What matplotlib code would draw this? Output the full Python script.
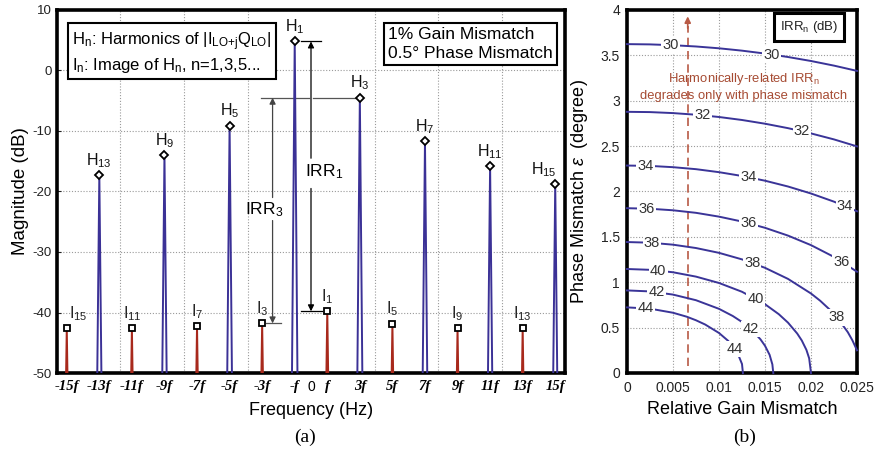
import matplotlib
matplotlib.use("Agg")
import matplotlib.pyplot as plt
import numpy as np

plt.rcParams["font.family"] = ["Liberation Sans", "DejaVu Sans"]
plt.rcParams["mathtext.fontset"] = "custom"
plt.rcParams["mathtext.rm"] = "Liberation Sans"
plt.rcParams["mathtext.it"] = "Liberation Sans:italic"
plt.rcParams["mathtext.bf"] = "Liberation Sans:bold"
plt.rcParams["axes.unicode_minus"] = False

# ---------------- (a) output spectrum ----------------
# harmonic order, frequency (multiples of f) and level (dB)
harm_order = [1, 3, 5, 7, 9, 11, 13, 15]
harm_freq = [-1, 3, -5, 7, -9, 11, -13, 15]
harm_db = [4.8, -4.5, -9.1, -11.7, -14.0, -15.8, -17.3, -18.8]

img_order = [1, 3, 5, 7, 9, 11, 13, 15]
img_freq = [1, -3, 5, -7, 9, -11, 13, -15]
img_db = [-39.8, -41.8, -41.9, -42.3, -42.6, -42.6, -42.6, -42.6]

freq_ticks = [-15, -13, -11, -9, -7, -5, -3, -1, 0, 1, 3, 5, 7, 9, 11, 13, 15]
freq_tick_labels = ["-15f", "-13f", "-11f", "-9f", "-7f", "-5f", "-3f", "-f", "0",
                    "f", "3f", "5f", "7f", "9f", "11f", "13f", "15f"]
mag_ticks = [-50, -40, -30, -20, -10, 0, 10]

# ---------------- (b) IRR contours ----------------
irr_levels = [30, 32, 34, 36, 38, 40, 42, 44]
gain_30 = [0, 0.0025, 0.005, 0.0075, 0.01, 0.0125, 0.015, 0.0175, 0.02, 0.0225, 0.025]
phase_30 = [3.624, 3.621, 3.612, 3.598, 3.578, 3.552, 3.520, 3.482, 3.438, 3.387, 3.329]
gain_32 = gain_30
phase_32 = [2.878, 2.875, 2.864, 2.846, 2.821, 2.788, 2.747, 2.698, 2.640, 2.574, 2.497]
gain_34 = gain_30
phase_34 = [2.286, 2.282, 2.268, 2.246, 2.213, 2.171, 2.119, 2.055, 1.978, 1.888, 1.782]
gain_36 = gain_30
phase_36 = [1.816, 1.810, 1.793, 1.765, 1.723, 1.669, 1.600, 1.514, 1.409, 1.279, 1.116]
gain_38 = [0, 0.0025, 0.005, 0.0075, 0.01, 0.0125, 0.015, 0.0175, 0.02, 0.021, 0.022,
           0.023, 0.024, 0.0245, 0.025]
phase_38 = [1.443, 1.436, 1.414, 1.377, 1.324, 1.252, 1.159, 1.037, 0.876, 0.796, 0.702,
            0.590, 0.450, 0.360, 0.250]
gain_40 = [0, 0.0025, 0.005, 0.0075, 0.01, 0.0125, 0.015, 0.0165, 0.0175, 0.0185, 0.019,
           0.0195, 0.0198, 0.02]
phase_40 = [1.146, 1.137, 1.110, 1.062, 0.992, 0.895, 0.758, 0.648, 0.555, 0.435, 0.358,
            0.255, 0.162, 0.0]
gain_42 = [0, 0.0025, 0.005, 0.0075, 0.01, 0.0115, 0.0125, 0.0135, 0.0145, 0.015, 0.0155,
           0.0158, 0.0159]
phase_42 = [0.910, 0.899, 0.864, 0.802, 0.707, 0.628, 0.562, 0.480, 0.372, 0.300, 0.200,
            0.095, 0.0]
gain_44 = [0, 0.0025, 0.005, 0.0065, 0.0075, 0.0085, 0.01, 0.011, 0.012, 0.0125, 0.0126]
phase_44 = [0.723, 0.709, 0.664, 0.620, 0.581, 0.534, 0.441, 0.354, 0.224, 0.099, 0.0]

contours = {30: (gain_30, phase_30), 32: (gain_32, phase_32), 34: (gain_34, phase_34),
            36: (gain_36, phase_36), 38: (gain_38, phase_38), 40: (gain_40, phase_40),
            42: (gain_42, phase_42), 44: (gain_44, phase_44)}

gain_ticks = [0, 0.005, 0.01, 0.015, 0.02, 0.025]
gain_tick_labels = ["0", "0.005", "0.01", "0.015", "0.02", "0.025"]
phase_ticks = [0, 0.5, 1, 1.5, 2, 2.5, 3, 3.5, 4]
phase_tick_labels = ["0", "0.5", "1", "1.5", "2", "2.5", "3", "3.5", "4"]
marker_gain = 0.0066

# ---------------- styling ----------------
BLUE = "#3b3196"
RED = "#a8291c"
CONTOUR = "#3a3498"
GRID = dict(color="#9a9a9a", lw=0.8, linestyle=(0, (1, 1.6)))
SPIKE_HALF = 0.32     # half base width of a spectral line (units of f)
SPIKE_FLOOR = -100.0  # level the line skirts fall to

W, H = 877, 455
fig = plt.figure(figsize=(W / 100, H / 100), dpi=100)
ax1 = fig.add_axes([57 / W, 1 - 373 / H, (565 - 57) / W, (373 - 10) / H])
ax2 = fig.add_axes([627 / W, 1 - 373 / H, (857 - 627) / W, (373 - 10) / H])

# ---- panel (a)
ax1.set_xlim(-15.6, 15.6)
ax1.set_ylim(-50, 10)
ax1.set_yticks(mag_ticks)
ax1.set_xticks(freq_ticks)
ax1.set_xticklabels(freq_tick_labels)
for lab, txt in zip(ax1.get_xticklabels(), freq_tick_labels):
    if txt == "0":
        lab.set_fontfamily("Liberation Sans")
        lab.set_fontsize(10)
    else:
        lab.set_fontfamily("Liberation Serif")
        lab.set_fontstyle("italic")
        lab.set_fontweight("bold")
        lab.set_fontsize(10.5)
ax1.set_xticks([k * 3.9 for k in range(-3, 4)], minor=True)
ax1.tick_params(axis="x", which="both", length=0, pad=5)
ax1.tick_params(axis="y", length=3, direction="in", labelsize=9.5, pad=4, colors="#222222")
ax1.grid(True, which="minor", axis="x", **GRID)
ax1.grid(True, which="major", axis="y", **GRID)
ax1.set_axisbelow(True)
for sp in ax1.spines.values():
    sp.set_linewidth(2.6)

for x0, pk in zip(harm_freq, harm_db):
    ax1.plot([x0 - SPIKE_HALF, x0, x0 + SPIKE_HALF], [SPIKE_FLOOR, pk, SPIKE_FLOOR],
             color=BLUE, lw=1.4, zorder=3)
for x0, pk in zip(img_freq, img_db):
    ax1.plot([x0 - SPIKE_HALF, x0, x0 + SPIKE_HALF], [SPIKE_FLOOR, pk, SPIKE_FLOOR],
             color=RED, lw=1.4, zorder=3)
ax1.plot(harm_freq, harm_db, "D", ms=4, mfc="white", mec="black", mew=1.3, zorder=5,
         linestyle="none")
ax1.plot(img_freq, img_db, "s", ms=4.2, mfc="white", mec="black", mew=1.3, zorder=5,
         linestyle="none")

for n, x0, pk in zip(harm_order, harm_freq, harm_db):
    dx = -8 if n == 15 else 0
    ax1.annotate("H$_{\\mathrm{%d}}$" % n, (x0, pk), xytext=(dx, 4), textcoords="offset points",
                 ha="center", va="bottom", fontsize=11.5, color="#111111")
for n, x0, pk in zip(img_order, img_freq, img_db):
    dx = 8 if n == 15 else 0
    ax1.annotate("I$_{\\mathrm{%d}}$" % n, (x0, pk), xytext=(dx, 4), textcoords="offset points",
                 ha="center", va="bottom", fontsize=11.5, color="#222222")

# image-rejection-ratio brackets
arrow_kw = dict(arrowstyle="-|>", mutation_scale=9, lw=0.9, shrinkA=0, shrinkB=0)
h1, i1 = harm_db[0], img_db[0]
h3, i3 = harm_db[1], img_db[1]
ax1.plot([-0.6, 0.6], [h1, h1], color="black", lw=0.9)
ax1.plot([-0.6, 0.7], [i1, i1], color="black", lw=0.9)
ax1.annotate("", xy=(0, h1), xytext=(0, -14.5), arrowprops=dict(color="black", **arrow_kw))
ax1.annotate("", xy=(0, i1), xytext=(0, -19.5), arrowprops=dict(color="black", **arrow_kw))
ax1.text(0.8, -16.8, "IRR$_{\\mathrm{1}}$", ha="center", va="center", fontsize=12.5)

x_irr3 = -2.36
ax1.plot([-3.05, -0.15], [h3, h3], color="#555555", lw=0.9)
ax1.plot([0.15, 2.7], [h3, h3], color="#555555", lw=0.9)
ax1.plot([-2.75, -1.85], [i3, i3], color="#555555", lw=0.9)
ax1.annotate("", xy=(x_irr3, h3), xytext=(x_irr3, -21.0),
             arrowprops=dict(color="#444444", **arrow_kw))
ax1.annotate("", xy=(x_irr3, i3), xytext=(x_irr3, -24.8),
             arrowprops=dict(color="#444444", **arrow_kw))
ax1.text(-2.9, -23.0, "IRR$_{\\mathrm{3}}$", ha="center", va="center", fontsize=12.5)

box = dict(boxstyle="square,pad=0.25", fc="white", ec="black", lw=1.5)
ax1.text(0.03, 0.945,
         "H$_{\\mathrm{n}}$: Harmonics of |I$_{\\mathrm{LO{+}j}}$Q$_{\\mathrm{LO}}$|\n"
         "I$_{\\mathrm{n}}$: Image of H$_{\\mathrm{n}}$, n=1,3,5...",
         transform=ax1.transAxes, ha="left", va="top", fontsize=12, bbox=box,
         linespacing=1.25, zorder=6)
ax1.text(0.652, 0.952, "1% Gain Mismatch\n0.5° Phase Mismatch",
         transform=ax1.transAxes, ha="left", va="top", fontsize=12.5, bbox=box,
         linespacing=1.3, zorder=6)

ax1.set_xlabel("Frequency (Hz)", fontsize=13, labelpad=6)
ax1.set_ylabel("Magnitude (dB)", fontsize=13.5, labelpad=2)

# ---- panel (b)
ax2.set_xlim(0, 0.025)
ax2.set_ylim(0, 4)
ax2.set_xticks(gain_ticks)
ax2.set_xticklabels(gain_tick_labels)
ax2.set_yticks(phase_ticks)
ax2.set_yticklabels(phase_tick_labels)
ax2.tick_params(axis="both", length=0, labelsize=10, colors="#222222")
ax2.tick_params(axis="x", pad=6)
ax2.tick_params(axis="y", pad=5)
ax2.grid(True, **GRID)
ax2.set_axisbelow(True)
for sp in ax2.spines.values():
    sp.set_linewidth(2.6)

label_gains = {30: [0.0047, 0.0157], 32: [0.0082, 0.0190], 34: [0.0020, 0.0132, 0.0237],
               36: [0.0021, 0.0132, 0.0233], 38: [0.0027, 0.0136, 0.0228],
               40: [0.0034, 0.0140], 42: [0.0032, 0.0134], 44: [0.0020, 0.0117]}
for lvl in irr_levels:
    g, p = contours[lvl]
    ax2.plot(g, p, color=CONTOUR, lw=1.4, zorder=3, clip_on=False)
    for gx in label_gains[lvl]:
        py = float(np.interp(gx, g, p))
        ax2.text(gx, py, str(lvl), ha="center", va="center", fontsize=10.5, color="#333333",
                 zorder=4, bbox=dict(boxstyle="square,pad=0.08", fc="white", ec="none"))

ax2.plot([marker_gain, marker_gain], [0.08, 3.82], color="#b85a45", lw=1.2,
         linestyle=(0, (5, 3)), zorder=2)
ax2.annotate("", xy=(marker_gain, 3.93), xytext=(marker_gain, 3.80),
             arrowprops=dict(arrowstyle="-|>", mutation_scale=9, lw=1.2, color="#b85a45",
                             shrinkA=0, shrinkB=0))
ax2.text(0.0127, 3.157, "Harmonically-related IRR$_{\\mathrm{n}}$\ndegrades only with phase mismatch",
         ha="center", va="center", fontsize=9.4, color="#a64b33", linespacing=1.25, zorder=5)
ax2.text(0.791, 0.952, "IRR$_{\\mathrm{n}}$ (dB)", transform=ax2.transAxes, ha="center",
         va="center", fontsize=9.5, color="#222222", zorder=6,
         bbox=dict(boxstyle="square,pad=0.45", fc="white", ec="black", lw=2.2))

ax2.set_xlabel("Relative Gain Mismatch", fontsize=13, labelpad=4)
ax2.set_ylabel("Phase Mismatch $\\varepsilon$  (degree)", fontsize=13, labelpad=8)

fig.text(305 / W, 1 - 437 / H, "(a)", fontsize=14, family="Liberation Serif",
         ha="center", va="center")
fig.text(745 / W, 1 - 437 / H, "(b)", fontsize=14, family="Liberation Serif",
         ha="center", va="center")

fig.savefig("out.png", dpi=100, facecolor="white")
